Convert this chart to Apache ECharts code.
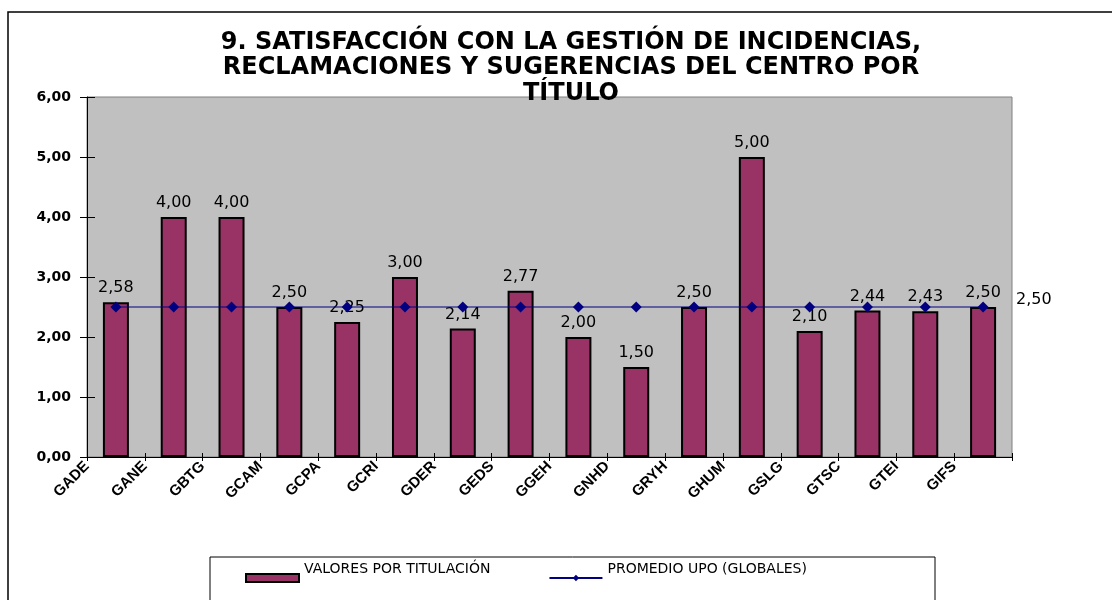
<!DOCTYPE html>
<html>
<head>
<meta charset="utf-8">
<script src="https://cdn.jsdelivr.net/npm/echarts@6/dist/echarts.min.js"></script>
<style>
html,body{margin:0;padding:0;background:#fff;}
#c{width:1112px;height:600px;}
</style>
</head>
<body>
<div id="c"></div>
<script>
var categories = ['GADE','GANE','GBTG','GCAM','GCPA','GCRI','GDER','GEDS','GGEH','GNHD','GRYH','GHUM','GSLG','GTSC','GTEI','GIFS'];
var valoresTitulacion = [2.58, 4.00, 4.00, 2.50, 2.25, 3.00, 2.14, 2.77, 2.00, 1.50, 2.50, 5.00, 2.10, 2.44, 2.43, 2.50];
var promedioUPO = [2.50, 2.50, 2.50, 2.50, 2.50, 2.50, 2.50, 2.50, 2.50, 2.50, 2.50, 2.50, 2.50, 2.50, 2.50, 2.50];
var yTicks = [0, 1, 2, 3, 4, 5, 6];
var titleText = '9. SATISFACCIÓN CON LA GESTIÓN DE INCIDENCIAS,\nRECLAMACIONES Y SUGERENCIAS DEL CENTRO POR\nTÍTULO';
var seriesNames = ['VALORES POR TITULACIÓN', 'PROMEDIO UPO (GLOBALES)'];

function fmt(v){ return Number(v).toFixed(2).replace('.', ','); }

var chart = echarts.init(document.getElementById('c'), null, {renderer:'canvas'});
var option = {
  backgroundColor: '#ffffff',
  animation: false,
  title: {
    text: titleText,
    left: 566, top: 25, textAlign: 'center',
    textStyle: {fontFamily: 'DejaVu Sans', fontWeight: 'bold', fontSize: 24, lineHeight: 25.5, color: '#000'}
  },
  graphic: [{
    type: 'rect', z: -10,
    shape: {x: 8, y: 12, width: 1120, height: 620},
    style: {fill: 'none', stroke: '#000', lineWidth: 1.5}
  },{
    type: 'rect', z: -10,
    shape: {x: 210, y: 557, width: 725, height: 80},
    style: {fill: '#fff', stroke: '#000', lineWidth: 1}
  }],
  legend: {
    left: 240, top: 557,
    itemWidth: 53, itemHeight: 8, itemGap: 58,
    data: [{name: seriesNames[0], icon: 'rect'}, {name: seriesNames[1]}],
    formatter: function(n){ return '{a|' + n + '}'; },
    textStyle: {
      fontFamily: 'DejaVu Sans', fontSize: 14, color: '#000',
      rich: {a: {fontFamily: 'DejaVu Sans', fontSize: 14, color: '#000', padding: [0, 0, 18, 0]}}
    }
  },
  grid: {
    left: 87, right: 100, top: 97, bottom: 143,
    show: true, backgroundColor: '#C0C0C0', borderColor: '#808080', borderWidth: 1
  },
  xAxis: [{
    type: 'category', data: categories, boundaryGap: true,
    axisLine: {lineStyle: {color: '#000', width: 1}},
    axisTick: {show: true, length: 4, lineStyle: {color: '#000'}},
    axisLabel: {show: false}
  },{
    type: 'value', min: 0, max: categories.length, interval: 1, position: 'bottom',
    axisLine: {show: false},
    axisTick: {show: true, inside: true, length: 4, lineStyle: {color: '#000'}},
    splitLine: {show: false},
    axisLabel: {
      rotate: 45, margin: 7,
      formatter: function(v){ return categories[v] || ''; },
      fontFamily: 'Liberation Sans', fontWeight: 'bold', fontSize: 15, color: '#000'
    }
  }],
  yAxis: [{
    type: 'value', min: yTicks[0], max: yTicks[yTicks.length-1], interval: 1,
    axisLine: {show: true, lineStyle: {color: '#000'}},
    axisTick: {show: true, length: 7, lineStyle: {color: '#000'}},
    splitLine: {show: false},
    axisLabel: {formatter: fmt, margin: 16, fontFamily: 'DejaVu Sans', fontWeight: 'bold', fontSize: 14, color: '#000'}
  },{
    type: 'value', min: yTicks[0], max: yTicks[yTicks.length-1], interval: 1, position: 'left',
    axisLine: {show: false},
    axisTick: {show: true, inside: true, length: 8, lineStyle: {color: '#000'}},
    splitLine: {show: false},
    axisLabel: {show: false}
  }],
  series: [{
    name: seriesNames[0], type: 'bar', xAxisIndex: 0, yAxisIndex: 0,
    data: valoresTitulacion, barWidth: 26,
    itemStyle: {color: '#993366', borderColor: '#000', borderWidth: 2},
    label: {show: true, position: 'top', distance: 6, formatter: function(p){ return fmt(p.value); },
      fontFamily: 'DejaVu Sans', fontSize: 16, color: '#000'}
  },{
    name: seriesNames[1], type: 'line', xAxisIndex: 0, yAxisIndex: 0,
    data: promedioUPO, color: '#000080',
    lineStyle: {color: '#000080', width: 1},
    symbol: 'diamond', symbolSize: 11,
    itemStyle: {color: '#000080'},
    z: 5,
    endLabel: {show: true, distance: 33, offset: [0, -7], formatter: function(p){ return fmt(p.value); },
      fontFamily: 'DejaVu Sans', fontSize: 16, color: '#000'}
  }]
};
chart.setOption(option);
</script>
</body>
</html>
